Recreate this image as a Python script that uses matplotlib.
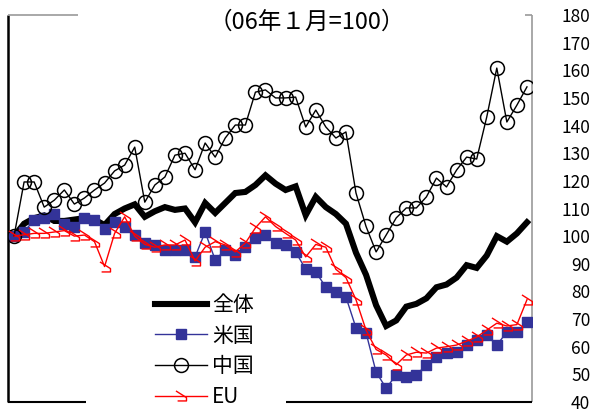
import matplotlib
matplotlib.use("Agg")
import matplotlib.pyplot as plt
from matplotlib.path import Path

plt.rcParams['font.family'] = ['Noto Sans CJK JP', 'DejaVu Sans']

# Monthly index, Jan 2006 = 100 (52 months)
months = list(range(52))

total = [100, 104.5, 106.5, 107.5, 105.5, 105.5, 106, 106.5, 106, 104,
         108, 110, 111.5, 107, 109, 110.5, 109.5, 110, 105, 112,
         108.4, 112, 115.6, 116, 118.5, 122, 119, 116.7, 118, 107.6,
         114.2, 110.5, 108, 104.5, 94, 86, 75, 67.5, 69.5, 74.5,
         75.5, 77.5, 81.5, 82.5, 85, 89.5, 88.5, 93, 100, 98,
         101, 105]

usa = [100, 101.5, 106, 106.6, 108, 104.5, 103.3, 106.6, 105.8, 102.5,
       105, 103.3, 100.4, 97.5, 96.8, 95, 95, 95, 92.5, 101.5,
       91.4, 95, 93.2, 96.1, 99.3, 100.4, 97.5, 96.8, 94.3, 88,
       87, 81.6, 79.8, 78, 66.8, 65, 50.8, 45, 49.8, 49,
       49.8, 53.4, 56.3, 57.7, 58.1, 60.6, 62.4, 64.2, 60.6, 65.3,
       65.3, 68.9]

china = [100, 119.6, 119.6, 110.5, 113, 116.7, 111.6, 113.8, 116.7, 119.2,
         123.6, 125.7, 132.2, 112.3, 118.5, 121.4, 129.3, 130, 124, 133.7,
         128.6, 135.5, 140.2, 140.2, 152.1, 152.9, 150, 150, 150.3, 139.5,
         145.6, 139.5, 135.5, 137.7, 115.6, 103.5, 94.3, 100.4, 106.6, 110.2,
         110.2, 114.2, 121, 117.8, 123.9, 128.6, 127.9, 143.1, 160.8, 141.3,
         147.4, 154]

eu = [100, 100.5, 101, 101, 101.5, 102, 100, 100.4, 98, 89,
      101, 107, 100, 97, 96, 96.8, 96.8, 98.6, 91, 96,
      98, 96.8, 94.3, 97.5, 103, 107, 103.5, 101, 98.6, 92.5,
      97, 96, 88, 85, 77, 66, 59, 57, 53.5, 57,
      58, 57.7, 59.5, 60, 60.6, 62, 63.5, 66, 68.5, 67.5,
      68, 77]

yticks = list(range(40, 181, 10))
series_labels = ['全体', '米国', '中国', 'EU']
title = '（06年１月=100）'

# open hook-shaped marker used for the EU series
eu_marker = Path([(-0.5, 0.5), (0.45, -0.1), (0.45, -0.4), (-0.35, -0.4)],
                 [Path.MOVETO, Path.LINETO, Path.LINETO, Path.LINETO])

fig = plt.figure(figsize=(5.95, 4.12), dpi=100)
ax = fig.add_axes([8 / 595, 1 - 402 / 412, 524 / 595, 387 / 412])
ax.set_xlim(-0.6, 51.5)
ax.set_ylim(40, 180)

h_total, = ax.plot(months, total, color='black', lw=4.4, solid_joinstyle='miter',
                   label=series_labels[0], zorder=2)
h_usa, = ax.plot(months, usa, color='#333399', lw=1.0, marker='s', markersize=7,
                 markerfacecolor='#333399', markeredgecolor='#333399',
                 label=series_labels[1], zorder=3)
h_china, = ax.plot(months, china, color='black', lw=1.0, marker='o', markersize=10,
                   markerfacecolor='none', markeredgecolor='black', markeredgewidth=1.1,
                   label=series_labels[2], zorder=4)
h_eu, = ax.plot(months, eu, color='#ff0000', lw=1.0, marker=eu_marker, markersize=8,
                markerfacecolor='none', markeredgecolor='#ff0000', markeredgewidth=1.0,
                label=series_labels[3], zorder=5)

# frame: partly drawn border
for s in ax.spines.values():
    s.set_visible(False)
kw = dict(transform=ax.transAxes, clip_on=False, solid_capstyle='butt')
ax.plot([0, 0], [0, 1], color='black', lw=1.8, **kw)
ax.plot([1, 1], [0, 1], color='#9a9a9a', lw=1.2, **kw)
ax.plot([0, 0.134], [1, 1], color='#9a9a9a', lw=1.2, **kw)
ax.plot([0.987, 1], [1, 1], color='#9a9a9a', lw=1.2, **kw)
ax.plot([0, 0.148], [0, 0], color='black', lw=1.5, **kw)
ax.plot([0.53, 1], [0, 0], color='black', lw=1.5, **kw)

ax.set_xticks([])
ax.yaxis.tick_right()
ax.set_yticks(yticks)
ax.set_yticklabels([str(v) for v in yticks])
ax.tick_params(axis='y', length=0, pad=42, labelsize=12.5)
for lbl in ax.get_yticklabels():
    lbl.set_horizontalalignment('right')

fig.text(307 / 595, 1 - 22 / 412, title, ha='center', va='center', fontsize=17)

leg = ax.legend(handles=[h_total, h_usa, h_china, h_eu], loc='upper left',
                bbox_to_anchor=(155 / 595, 1 - 294 / 412), bbox_transform=fig.transFigure,
                frameon=False, fontsize=15, handlelength=2.5, handletextpad=0.25,
                labelspacing=0.42, borderpad=0, borderaxespad=0)

fig.savefig('out.png', dpi=100)
